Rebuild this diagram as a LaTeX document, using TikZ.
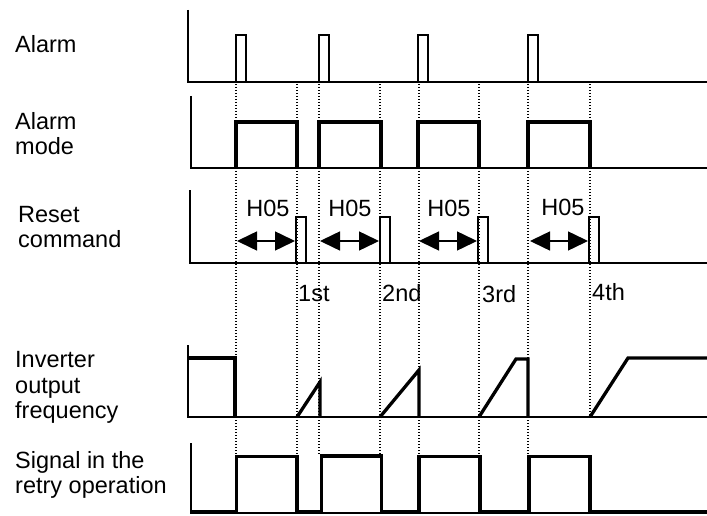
\documentclass[tikz,border=0pt]{standalone}
\usepackage{fontspec}
\setmainfont{Liberation Sans}
\usetikzlibrary{arrows.meta,positioning}
\tikzset{
    axis/.style={line width=1.4pt},
    wave/.style={line width=3.3pt,line join=miter},
    pulse/.style={line width=2.9pt,line join=miter},
    guide/.style={line width=1.2pt,dash pattern=on 1.2pt off 1.8pt},
    span/.style={{Triangle[length=20pt,width=19pt]}-{Triangle[length=20pt,width=19pt]},line width=1.5pt},
    lbl/.style={font=\fontsize{23.5}{25.3}\selectfont,inner sep=0pt,align=left,anchor=base west}
}

\begin{document}
\begin{tikzpicture}[x=1pt,y=-1pt]
\useasboundingbox (0,0) rectangle (707,516);

% ---- guide lines ----
\foreach \gx/\gy in {236/455,297/456,319/455,380/456,419/455,479/455,528/455,590/417}
  \draw[guide] (\gx,84) -- (\gx,\gy);

% ---- labels (left), placed at the last line ----
\node[lbl] (lAlarm) at (15,52.5) {Alarm};
\node[lbl] (lMode) at (15,155) {Alarm\\mode};
\node[lbl] (lReset) at (18,247.3) {Reset\\command};
\node[lbl] (lFreq) at (15,418.3) {Inverter\\output\\frequency};
\node[lbl] (lRetry) at (15,493.3) {Signal in the\\retry operation};

% ---- alarm ----
\draw[axis] (188,10) -- (188,82) -- (707,82);
\foreach \px in {236,319,418,528}
  \draw[pulse] (\px,82) -- (\px,35) -- (\px+10,35) -- (\px+10,82);

% ---- alarm mode ----
\draw[axis] (191,96) -- (191,168) -- (707,168);
\foreach \ax/\bx in {236/297,319/381,418/479,528/590}
  \draw[wave] (\ax,168) -- (\ax,122) -- (\bx,122) -- (\bx,168);

% ---- reset command ----
\draw[axis] (190,190) -- (190,263) -- (707,263);
\foreach \px in {296,380,478,589}
  \draw[pulse] (\px,263) -- (\px,217) -- (\px+10,217) -- (\px+10,263);

\foreach \ax/\bx/\i in {237/295/1,320/379/2,419/477/3,530/588/4}{
  \coordinate (s\i) at (\ax,241);
  \coordinate (e\i) at (\bx,241);
  \draw[span] (s\i) -- (e\i);
}
\node[lbl,anchor=base] (h1) at (268,216) {H05};
\node[lbl,anchor=base] (h2) at (350,216) {H05};
\node[lbl,anchor=base] (h3) at (449,216) {H05};
\node[lbl,anchor=base] (h4) at (563,215) {H05};

\node[lbl] (n1) at (298,301) {1st};
\node[lbl] (n2) at (382,301) {2nd};
\node[lbl] (n3) at (482,302.5) {3rd};
\node[lbl] (n4) at (592,300.5) {4th};

% ---- inverter output frequency ----
\draw[axis] (188,345) -- (188,417) -- (707,417);
\draw[wave] (188,358) -- (235,358) -- (235,417);
\draw[wave] (297,417) -- (320,382) -- (320,417);
\draw[wave] (380,417) -- (419,370) -- (419,417);
\draw[wave] (479,417) -- (516,359) -- (528,359) -- (528,417);
\draw[wave] (590,417) -- (628,358) -- (707,358);

% ---- retry signal ----
\draw[axis] (191,443) -- (191,513) -- (707,513);
\draw[wave] (191,512) -- (236.5,512) -- (236.5,456.5) -- (297,456.5) -- (297,512)
  -- (321.5,512) -- (321.5,456) -- (381.5,456) -- (381.5,512)
  -- (419,512) -- (419,456.5) -- (480,456.5) -- (480,512)
  -- (529,512) -- (529,456.5) -- (590,456.5) -- (590,512) -- (707,512);

\end{tikzpicture}
\end{document}
